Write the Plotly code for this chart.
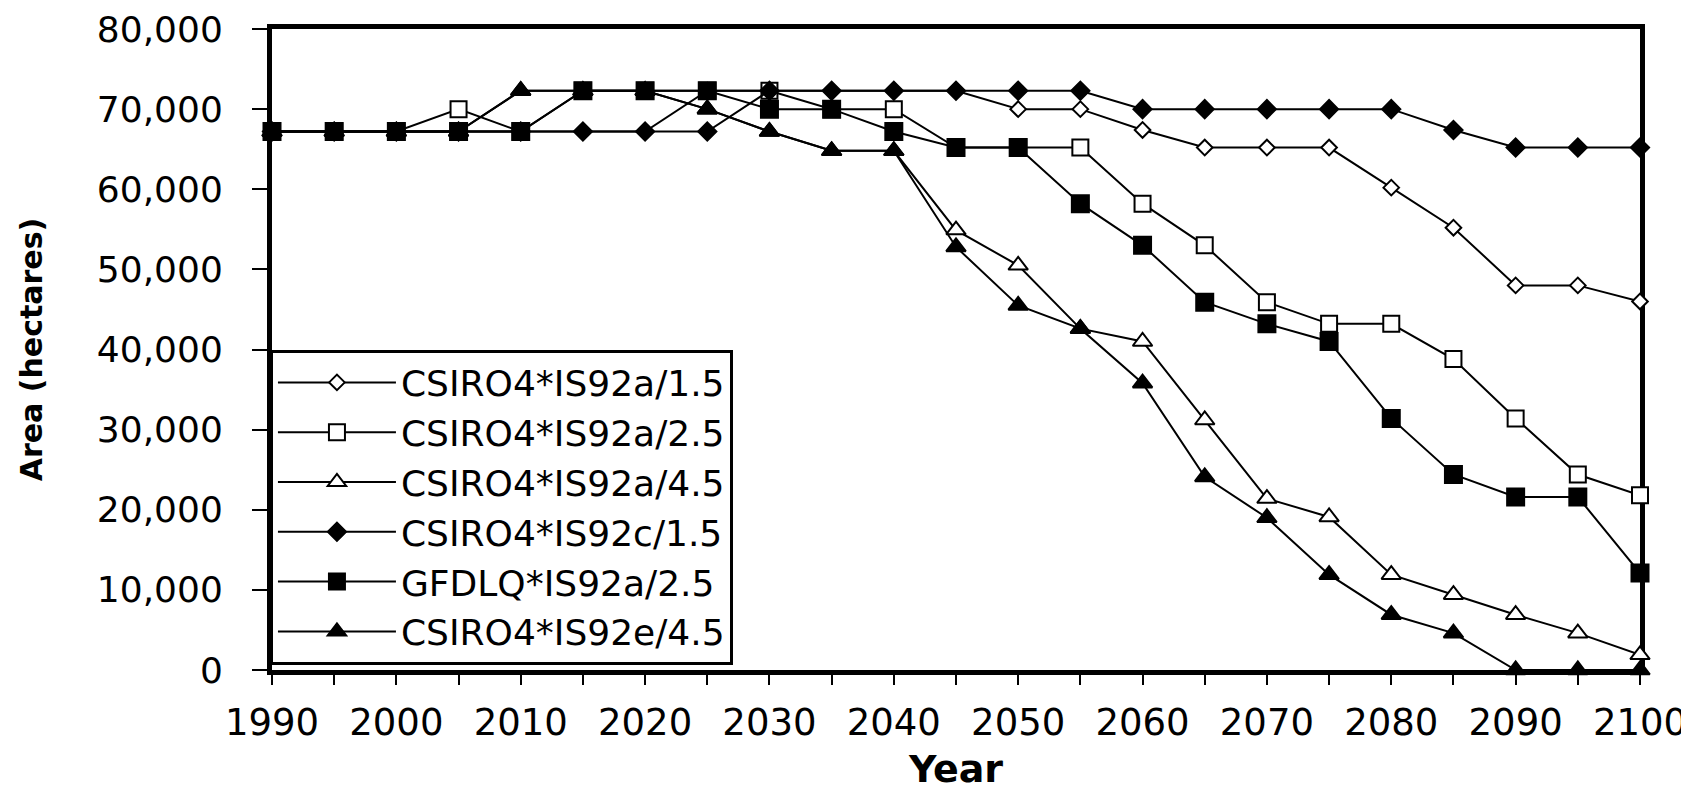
import plotly.graph_objects as go

years = list(range(1990, 2101, 5))

series_names = [
    "CSIRO4*IS92a/1.5",
    "CSIRO4*IS92a/2.5",
    "CSIRO4*IS92a/4.5",
    "CSIRO4*IS92c/1.5",
    "GFDLQ*IS92a/2.5",
    "CSIRO4*IS92e/4.5",
]

csiro_a15 = [67200, 67200, 67200, 67200, 67200, 67200, 67200, 72300, 72300, 72300, 72300, 72300,
             70000, 70000, 67400, 65200, 65200, 65200, 60200, 55200, 48000, 48000, 46000]
csiro_a25 = [67200, 67200, 67200, 70000, 67200, 72300, 72300, 72300, 72300, 70000, 70000, 65200,
             65200, 65200, 58200, 53000, 45900, 43200, 43200, 38800, 31400, 24400, 21800]
csiro_a45 = [67200, 67200, 67200, 67200, 72300, 72300, 72300, 70000, 67200, 64800, 64800, 54900,
             50500, 42600, 41000, 31200, 21400, 19100, 11900, 9400, 6900, 4600, 1900]
csiro_c15 = [67200, 67200, 67200, 67200, 67200, 67200, 67200, 67200, 72300, 72300, 72300, 72300,
             72300, 72300, 70000, 70000, 70000, 70000, 70000, 67400, 65200, 65200, 65200]
gfdl_a25 = [67200, 67200, 67200, 67200, 67200, 72300, 72300, 72300, 70000, 70000, 67200, 65200,
            65200, 58200, 53000, 45900, 43200, 41000, 31400, 24400, 21600, 21600, 12100]
csiro_e45 = [67200, 67200, 67200, 67200, 72300, 72300, 72300, 70000, 67200, 64800, 64800, 52800,
             45500, 42600, 35800, 24100, 19000, 11900, 6900, 4600, 0, 0, 0]

y_ticks = [0, 10000, 20000, 30000, 40000, 50000, 60000, 70000, 80000]
x_ticks = list(range(1990, 2101, 10))

all_series = [csiro_a15, csiro_a25, csiro_a45, csiro_c15, gfdl_a25, csiro_e45]
styles = [
    dict(symbol="diamond", size=12, fill="white"),
    dict(symbol="square", size=16, fill="white"),
    dict(symbol="triangle-up", size=17, fill="white"),
    dict(symbol="diamond", size=14, fill="black"),
    dict(symbol="square", size=17, fill="black"),
    dict(symbol="triangle-up", size=17, fill="black"),
]

fig = go.Figure()
for i, (name, vals, st) in enumerate(zip(series_names, all_series, styles)):
    fig.add_trace(go.Scatter(
        x=years, y=vals, name=name, mode="lines+markers",
        line=dict(color="black", width=2),
        marker=dict(symbol=st["symbol"], size=st["size"], color=st["fill"],
                    line=dict(color="black", width=2)),
        cliponaxis=False, legendgroup=f"g{i}",
    ))

font_family = "DejaVu Sans"
fig.update_layout(
    width=1681, height=783,
    margin=dict(l=264, r=49, t=21, b=121, autoexpand=False),
    paper_bgcolor="white", plot_bgcolor="white",
    font=dict(family=font_family, color="black"),
    showlegend=True,
    legend=dict(
        x=-0.0015, y=0.5, xanchor="left", yanchor="top",
        bgcolor="white", bordercolor="black", borderwidth=3,
        font=dict(size=36, family=font_family, color="black"),
        traceorder="grouped", tracegroupgap=0,
        itemwidth=118,
    ),
    xaxis=dict(
        range=[1990, 2100], tickmode="array", tickvals=x_ticks,
        ticks="outside", ticklen=10, tickwidth=2, tickcolor="black",
        minor=dict(dtick=5, tick0=1990, ticks="outside", ticklen=10, tickwidth=2, tickcolor="black"),
        showline=True, linewidth=5, linecolor="black", mirror=True,
        showgrid=False, zeroline=False, automargin=False,
        tickfont=dict(size=37, family=font_family),
        ticklabelstandoff=6,
        title=dict(text="<b>Year</b>", font=dict(size=38, family=font_family), standoff=22),
        layer="below traces",
    ),
    yaxis=dict(
        range=[0, 80000], tickmode="array", tickvals=y_ticks, tickformat=",d",
        ticks="outside", ticklen=15, tickwidth=2, tickcolor="black",
        showline=True, linewidth=5, linecolor="black", mirror=True,
        showgrid=False, zeroline=False, automargin=False,
        tickfont=dict(size=36, family=font_family),
        ticklabelstandoff=22,
        title=dict(text="<b>Area (hectares)</b>", font=dict(size=30, family=font_family), standoff=47),
        layer="below traces",
    ),
)

fig.write_html("out.html")
